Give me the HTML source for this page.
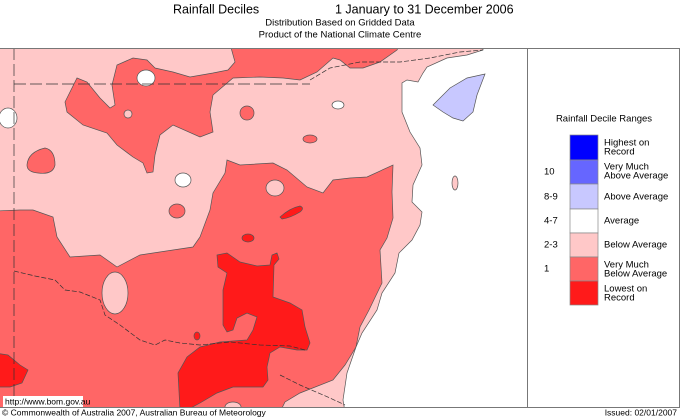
<!DOCTYPE html>
<html><head><meta charset="utf-8"><style>
body{margin:0;background:#fff;}
svg{display:block;font-family:"Liberation Sans",Arial,sans-serif;}
</style></head><body>
<svg width="680" height="419" viewBox="0 0 680 419" xmlns="http://www.w3.org/2000/svg">
<rect width="680" height="419" fill="#fff"/>
<text x="173" y="10" font-size="12.5" dominant-baseline="middle">Rainfall Deciles</text>
<text x="335" y="10" font-size="12.5" dominant-baseline="middle">1 January to 31 December 2006</text>
<text x="340" y="23" font-size="9.5" text-anchor="middle" dominant-baseline="middle">Distribution Based on Gridded Data</text>
<text x="340" y="35" font-size="9.5" text-anchor="middle" dominant-baseline="middle">Product of the National Climate Centre</text>
<defs><clipPath id="c"><rect x="0" y="48" width="527" height="359"/></clipPath></defs>
<g clip-path="url(#c)" stroke="#555" stroke-width="0.7">
<rect x="0" y="48" width="527" height="359" fill="#ffc8c8" stroke="none"/>
<!-- north medium blob -->
<path fill="#ff6666" d="M230,44 L400,44 L397,50 L380,62 L363,68 L350,68 L340,60 L333,58 L317,72 L300,80 L283,78 L260,77 L233,78 L213,95 L210,112 L213,132 L200,137 L173,125 L160,135 L155,155 L153,172 L147,173 L143,163 L133,157 L117,145 L107,133 L83,125 L67,112 L65,102 L77,78 L87,82 L100,98 L110,108 L115,105 L112,85 L117,65 L133,58 L147,60 L155,68 L173,72 L190,77 L213,73 L228,70 L235,62 Z"/>
<ellipse cx="146" cy="78" rx="9" ry="8" fill="#fff"/>
<ellipse cx="128" cy="114" rx="4" ry="4" fill="#ffc8c8"/>
<path fill="#ff6666" d="M27,165 Q28,152 45,148 Q55,150 55,165 Q53,175 38,173 Q27,172 27,165 Z"/>
<ellipse cx="247" cy="113" rx="7" ry="7" fill="#ff6666"/>
<ellipse cx="310" cy="139" rx="7" ry="4" fill="#ff6666"/>
<ellipse cx="338" cy="105" rx="6" ry="4" fill="#fff"/>
<ellipse cx="183" cy="180" rx="8" ry="7" fill="#fff"/>
<ellipse cx="8" cy="118" rx="9" ry="10" fill="#fff"/>
<!-- lower medium region -->
<path fill="#ff6666" d="M-5,211 L20,210 L33,210 L53,217 L57,237 L70,257 L100,255 L117,267 L140,255 L173,250 L193,247 L200,237 L210,210 L213,193 L225,173 L227,160 L240,165 L273,163 L287,170 L307,187 L323,193 L333,180 L350,178 L367,177 L393,165 L392,192 L393,218 L387,238 L380,250 L382,283 L369,310 L360,327 L356,347 L345,365 L333,380 L300,393 L285,402 L280,412 L-5,412 Z"/>
<ellipse cx="115" cy="293" rx="13" ry="21" fill="#ffc8c8"/>
<ellipse cx="275" cy="188" rx="9" ry="8" fill="#ffc8c8"/>
<ellipse cx="233" cy="407" rx="8" ry="5" fill="#ffc8c8"/>
<ellipse cx="177" cy="211" rx="8" ry="7" fill="#ff6666"/>
<!-- lowest -->
<path fill="#ff1a1a" d="M217,255 L227,253 L240,262 L257,266 L270,265 L272,255 L277,253 L279,259 L274,265 L273,297 L290,303 L302,310 L305,327 L310,343 L307,350 L297,350 L280,347 L270,353 L267,367 L268,380 L263,387 L233,387 L217,393 L200,403 L187,410 L180,410 L178,373 L187,357 L200,347 L220,342 L247,340 L253,330 L257,317 L247,313 L237,318 L233,330 L227,332 L223,325 L223,290 L227,273 L218,267 Z"/>
<path fill="#ff1a1a" d="M280,217 Q290,208 300,206 Q305,208 300,212 Q290,218 282,219 Z"/>
<ellipse cx="248" cy="238" rx="6" ry="4" fill="#ff1a1a"/>
<ellipse cx="197" cy="336" rx="3" ry="4" fill="#ff1a1a"/>
<path fill="#ff1a1a" d="M-5,353 L8,355 L20,365 L28,370 L22,383 L10,387 L-5,387 Z"/>
<!-- white land/ocean -->
<path fill="#fff" d="M483,40 L483,50 L467,55 L447,58 L427,67 L423,73 L418,82 L407,80 L402,83 L402,112 L410,132 L420,148 L422,165 L413,185 L412,202 L422,212 L420,225 L412,240 L399,253 L395,273 L382,293 L377,310 L362,333 L356,347 L347,373 L343,400 L345,412 L530,412 L530,40 Z"/>
<path fill="#c8c8ff" d="M433,105 L450,88 L467,78 L485,74 L477,95 L473,112 L463,121 L453,118 L443,112 Z"/>
<ellipse cx="455" cy="183" rx="3" ry="7" fill="#ffc8c8"/>
<!-- borders -->
<g fill="none" stroke="#333" stroke-width="0.7" stroke-dasharray="12,4">
<line x1="14" y1="48" x2="14" y2="407"/>
<line x1="14" y1="84" x2="310" y2="84"/>
</g>
<g fill="none" stroke="#333" stroke-width="0.7" stroke-dasharray="5,2">
<path d="M14,271 L35,276 L55,280 L65,290 L80,292 L100,300 L105,315 L120,325 L140,340 L155,345 L165,340 L180,343 L200,345 L230,342 L260,345 L290,346 L305,350"/>
<path d="M280,375 L300,385 L330,398 L345,405"/>
<path d="M310,80 L330,68 L360,62 L400,62 L430,58 L460,52 L483,50"/>
</g>
</g>
<line x1="0" y1="48.5" x2="680" y2="48.5" stroke="#777" stroke-width="1"/>
<line x1="0" y1="407.5" x2="680" y2="407.5" stroke="#777" stroke-width="1"/>
<line x1="527.5" y1="48" x2="527.5" y2="407" stroke="#777" stroke-width="1"/>
<line x1="679.5" y1="48" x2="679.5" y2="407" stroke="#777" stroke-width="1"/>
<rect x="3" y="396" width="80" height="11" fill="#fff"/>
<text x="5" y="402" font-size="8.5" dominant-baseline="middle">http://www.bom.gov.au</text>
<text x="604" y="119" font-size="9.5" text-anchor="middle" dominant-baseline="middle">Rainfall Decile Ranges</text>
<g stroke="#888" stroke-width="0.7">
<rect x="570" y="135" width="28" height="25" fill="#0000ff"/>
<rect x="570" y="160" width="28" height="24" fill="#6666ff"/>
<rect x="570" y="184" width="28" height="25" fill="#c8c8ff"/>
<rect x="570" y="209" width="28" height="24" fill="#ffffff"/>
<rect x="570" y="233" width="28" height="24" fill="#ffc8c8"/>
<rect x="570" y="257" width="28" height="24" fill="#ff6666"/>
<rect x="570" y="281" width="28" height="24" fill="#ff1a1a"/>
</g>
<g font-size="9.5" dominant-baseline="middle">
<text x="604" y="143">Highest on</text><text x="604" y="152">Record</text>
<text x="604" y="167">Very Much</text><text x="604" y="176">Above Average</text>
<text x="604" y="197">Above Average</text>
<text x="604" y="221">Average</text>
<text x="604" y="245">Below Average</text>
<text x="604" y="265">Very Much</text><text x="604" y="274">Below Average</text>
<text x="604" y="289">Lowest on</text><text x="604" y="298">Record</text>
<text x="544" y="172">10</text>
<text x="544" y="197">8-9</text>
<text x="544" y="221">4-7</text>
<text x="544" y="245">2-3</text>
<text x="544" y="269">1</text>
</g>
<text x="2" y="413" font-size="8.5" dominant-baseline="middle">© Commonwealth of Australia 2007, Australian Bureau of Meteorology</text>
<text x="677" y="413" font-size="8.5" text-anchor="end" dominant-baseline="middle">Issued: 02/01/2007</text>
</svg>
</body></html>
